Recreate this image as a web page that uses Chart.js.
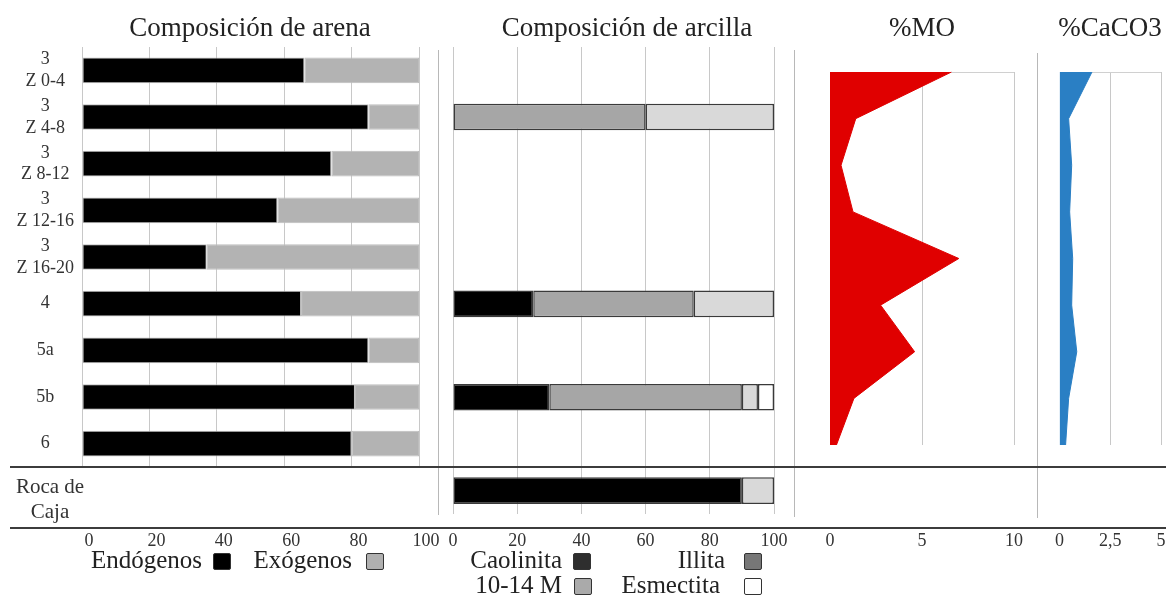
<!DOCTYPE html>
<html lang="es">
<head>
<meta charset="utf-8">
<title>Composición de arena y arcilla, %MO y %CaCO3</title>
<script src="https://cdn.jsdelivr.net/npm/chart.js@4.4.1/dist/chart.umd.min.js"></script>
<style>
  body { margin: 0; background: #fff; }
  #fig { position: relative; width: 1166px; height: 597px; overflow: hidden; font-family: "Liberation Serif", serif; color: #222; }
  canvas { position: absolute; top: 0; }
  .title { position: absolute; top: 9px; font-size: 27px; line-height: 36px; white-space: nowrap; transform: translateX(-50%); }
  .hline { position: absolute; left: 10px; width: 1156px; height: 2px; background: #3c3c3c; }
  .vline { position: absolute; width: 1px; background: #b8b8b8; }
  .leg { position: absolute; font-size: 25px; line-height: 28px; white-space: nowrap; text-align: right; }
  .box { position: absolute; width: 18px; height: 17px; border: 1px solid #333; border-radius: 2px; box-sizing: border-box; }
  #roca { position: absolute; left: 0; width: 100px; top: 474px; font-size: 21px; line-height: 25px; text-align: center; color: #333; }
</style>
</head>
<body>
<div id="fig">
  <canvas id="arena" width="440" height="560" style="left:0"></canvas>
  <canvas id="arcilla" width="350" height="560" style="left:440px"></canvas>
  <canvas id="mo" width="230" height="560" style="left:800px"></canvas>
  <canvas id="caco3" width="126" height="560" style="left:1040px"></canvas>

  <div class="title" style="left:250px">Composición de arena</div>
  <div class="title" style="left:627px">Composición de arcilla</div>
  <div class="title" style="left:922px">%MO</div>
  <div class="title" style="left:1110px">%CaCO3</div>

  <div class="vline" style="left:438px; top:50px; height:465px"></div>
  <div class="vline" style="left:794px; top:50px; height:467px"></div>
  <div class="vline" style="left:1037px; top:53px; height:465px"></div>
  <div class="hline" style="top:466px"></div>
  <div class="hline" style="top:527px"></div>

  <div id="roca"></div>

  <div class="leg" style="right:964px; top:546px">Endógenos</div>
  <div class="box" style="left:213px; top:553px; background:#000"></div>
  <div class="leg" style="right:814px; top:546px">Exógenos</div>
  <div class="box" style="left:366px; top:553px; background:#b0b0b0"></div>

  <div class="leg" style="right:604px; top:546px">Caolinita</div>
  <div class="box" style="left:573px; top:553px; background:#2e2e2e"></div>
  <div class="leg" style="right:441px; top:546px">Illita</div>
  <div class="box" style="left:744px; top:553px; background:#777"></div>
  <div class="leg" style="right:604px; top:571px">10-14 M</div>
  <div class="box" style="left:574px; top:578px; background:#aaa"></div>
  <div class="leg" style="right:446px; top:571px">Esmectita</div>
  <div class="box" style="left:744px; top:578px; background:#fff"></div>
</div>

<script>
// capas (eje vertical, de arriba a abajo)
const layers = [["3", "Z 0-4"], ["3", "Z 4-8"], ["3", "Z 8-12"], ["3", "Z 12-16"], ["3", "Z 16-20"], "4", "5a", "5b", "6", ["Roca de", "Caja"]];

// composicion de arena (%)
const endogenos = [66, 85, 74, 58, 37, 65, 85, 81, 80];
const exogenos = [34, 15, 26, 42, 63, 35, 15, 19, 20];

// composicion de arcilla (%), solo algunas capas
const caolinita = [null, 0, null, null, null, 25, null, 30, null, 90];
const illita = [null, 60, null, null, null, 50, null, 60, null, 0];
const m1014 = [null, 40, null, null, null, 25, null, 5, null, 10];
const esmectita = [null, 0, null, null, null, 0, null, 5, null, 0];

// materia organica y carbonatos (%)
const materiaOrganica = [6.6, 1.4, 0.6, 1.25, 7.0, 2.75, 4.6, 1.3, 0.35];
const carbonato = [1.6, 0.45, 0.6, 0.5, 0.65, 0.6, 0.85, 0.45, 0.3];

// ticks
const pctTicks = [0, 20, 40, 60, 80, 100];
const moTicks = [0, 5, 10];
const caco3Ticks = [0, 2.5, 5];

Chart.defaults.font.family = "'Liberation Serif', serif";
Chart.defaults.color = "#333";
Chart.defaults.animation = false;

const gridGray = "#c8c8c8";

function fixedTicks(values) {
  return (scale) => {
    scale.ticks = values.map((v) => ({ value: v }));
  };
}

// eje de valores abajo; la separacion de las etiquetas no debe comer ancho
function valueAxis(max, values, height, padding, extra) {
  return Object.assign({
    type: "linear",
    min: 0,
    max: max,
    stacked: true,
    afterBuildTicks: fixedTicks(values),
    afterFit: (s) => {
      s.height = height;
      s.paddingLeft = 0;
      s.paddingRight = 0;
    },
    grid: { color: gridGray, drawTicks: false },
    border: { display: false },
    ticks: { padding: padding, maxRotation: 0, autoSkip: false, font: { size: 18 } },
  }, extra || {});
}

const noPlugins = { legend: { display: false }, tooltip: { enabled: false } };

// Composicion de arena
new Chart(document.getElementById("arena"), {
  type: "bar",
  data: {
    labels: layers.slice(0, 9),
    datasets: [
      { label: "Endógenos", data: endogenos, backgroundColor: "#000", borderColor: "#bdbdbd", borderWidth: 1, borderSkipped: false, categoryPercentage: 1, barPercentage: 0.55 },
      { label: "Exógenos", data: exogenos, backgroundColor: "#b3b3b3", borderColor: "#bdbdbd", borderWidth: 1, borderSkipped: false, categoryPercentage: 1, barPercentage: 0.55 },
    ],
  },
  options: {
    indexAxis: "y",
    responsive: false,
    layout: { padding: { top: 47, right: 21, left: 0, bottom: 0 } },
    plugins: noPlugins,
    scales: {
      x: valueAxis(100, pctTicks, 93, 63, {
        ticks: { padding: 63, labelOffset: 7, maxRotation: 0, autoSkip: false, font: { size: 18 } },
      }),
      y: {
        stacked: true,
        afterFit: (s) => { s.width = 82; },
        grid: { display: false },
        border: { display: false },
        ticks: { padding: 0, crossAlign: "center", font: { size: 18, lineHeight: 1.2 } },
      },
    },
  },
});
document.getElementById("roca").innerHTML = layers[9].join("<br>");

// Composicion de arcilla
const clayBar = { borderColor: "#3a3a3a", borderWidth: 1.5, borderSkipped: false, categoryPercentage: 1, barPercentage: 0.57 };
new Chart(document.getElementById("arcilla"), {
  type: "bar",
  data: {
    labels: layers,
    datasets: [
      Object.assign({ label: "Caolinita", data: caolinita, backgroundColor: "#000" }, clayBar),
      Object.assign({ label: "Illita", data: illita, backgroundColor: "#a6a6a6" }, clayBar),
      Object.assign({ label: "10-14 M", data: m1014, backgroundColor: "#d9d9d9" }, clayBar),
      Object.assign({ label: "Esmectita", data: esmectita, backgroundColor: "#fff" }, clayBar),
    ],
  },
  options: {
    indexAxis: "y",
    responsive: false,
    layout: { padding: { top: 47, right: 16, left: 13, bottom: 0 } },
    plugins: noPlugins,
    scales: {
      x: valueAxis(100, pctTicks, 46, 16, {}),
      y: { stacked: true, display: false },
    },
  },
});

// perfiles de area (%MO, %CaCO3)
function profileChart(id, values, color, max, ticks, padLeft, padRight, fmt) {
  return new Chart(document.getElementById(id), {
    type: "line",
    data: {
      labels: layers.slice(0, 9),
      datasets: [{
        data: values,
        fill: "origin",
        backgroundColor: color,
        borderColor: color,
        borderWidth: 1,
        pointRadius: 0,
        tension: 0,
      }],
    },
    options: {
      indexAxis: "y",
      responsive: false,
      layout: { padding: { top: 72, right: padRight, left: padLeft, bottom: 0 } },
      plugins: noPlugins,
      scales: {
        x: valueAxis(max, ticks, 115, 85, {
          stacked: false,
          grid: { color: (ctx) => (ctx.tick && ctx.tick.value === 0 ? "rgba(0,0,0,0)" : gridGray), drawTicks: false },
          ticks: { padding: 85, maxRotation: 0, autoSkip: false, font: { size: 18 }, callback: fmt },
        }),
        y: {
          type: "category",
          offset: false,
          afterFit: (s) => { s.width = 0; },
          grid: { color: (ctx) => (ctx.index === 0 ? "#d0d0d0" : "rgba(0,0,0,0)"), drawTicks: false },
          border: { display: false },
          ticks: { display: false },
        },
      },
    },
  });
}

profileChart("mo", materiaOrganica, "#e00000", 10, moTicks, 30, 16, (v) => v);
profileChart("caco3", carbonato, "#2a7fc4", 5, caco3Ticks, 19.5, 5, (v) => String(v).replace(".", ","));
</script>
</body>
</html>
